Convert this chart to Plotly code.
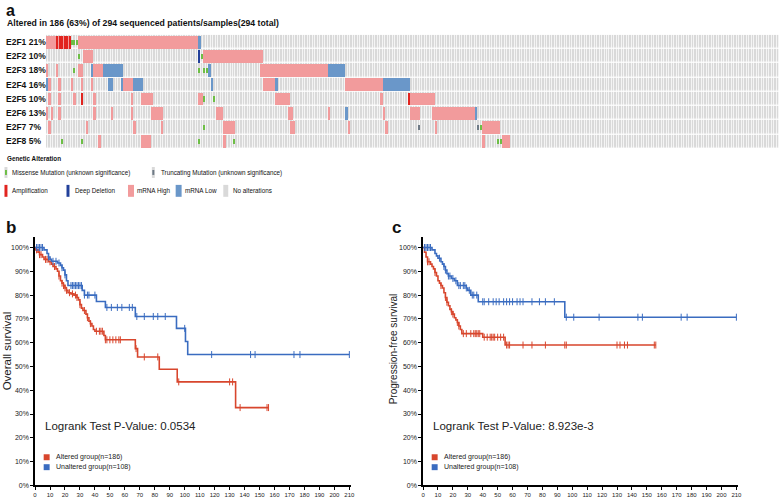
import plotly.graph_objects as go

W, H = 783, 500
FONT = "Liberation Sans, Arial, sans-serif"

# ---------------- Oncoprint data ----------------
GENES = ["E2F1", "E2F2", "E2F3", "E2F4", "E2F5", "E2F6", "E2F7", "E2F8"]
GENE_PCT = ["21%", "10%", "18%", "16%", "10%", "13%", "7%", "5%"]
N_SAMPLES = 294

# (gene index, first sample, last sample)
MRNA_HIGH = [
    (0, 0, 9), (0, 13, 60),
    (1, 15, 18), (1, 63, 86),
    (2, 0, 0), (2, 4, 4), (2, 13, 14), (2, 19, 22), (2, 86, 112),
    (3, 1, 1), (3, 5, 5), (3, 10, 10), (3, 14, 14), (3, 18, 18), (3, 31, 34), (3, 87, 91), (3, 120, 134),
    (4, 1, 1), (4, 5, 5), (4, 11, 11), (4, 19, 19), (4, 34, 34), (4, 38, 42), (4, 61, 62), (4, 92, 97),
    (4, 134, 134), (4, 146, 155),
    (5, 0, 0), (5, 2, 2), (5, 5, 5), (5, 19, 19), (5, 26, 26), (5, 34, 34), (5, 42, 46), (5, 68, 70),
    (5, 97, 98), (5, 113, 113), (5, 135, 135), (5, 146, 149), (5, 155, 171),
    (6, 1, 1), (6, 16, 16), (6, 35, 35), (6, 46, 46), (6, 71, 75), (6, 98, 99), (6, 121, 121),
    (6, 136, 136), (6, 156, 156), (6, 175, 181),
    (7, 21, 21), (7, 38, 41), (7, 71, 71), (7, 175, 175), (7, 183, 185),
]
MRNA_LOW = [
    (0, 61, 61),
    (2, 18, 18), (2, 23, 30), (2, 65, 65), (2, 113, 119),
    (3, 0, 0), (3, 25, 26), (3, 30, 30), (3, 35, 38), (3, 66, 66), (3, 92, 92), (3, 135, 145),
    (5, 120, 120), (5, 172, 172),
]
# (gene index, sample)
AMPLIFICATION = [(0, 4), (0, 5), (0, 6), (0, 7), (0, 8), (0, 9), (4, 14), (4, 145)]
DEEP_DELETION = [(1, 61)]
MISSENSE = [(0, 10), (0, 11), (0, 12), (1, 13), (1, 62), (2, 11), (2, 61), (2, 63), (2, 64),
            (4, 63), (4, 67), (6, 63), (6, 174), (7, 6), (7, 14), (7, 61), (7, 75), (7, 181), (7, 182)]
TRUNCATING = [(6, 149), (6, 173)]

# ---------------- Kaplan-Meier data (months, % surviving after event) ----------------
OS_ALT_T = [0.5, 2, 3, 5, 6, 9, 11, 12, 14, 15, 16, 17, 18, 19, 20, 21, 22, 24, 26, 28, 29, 30, 31, 32,
            34, 35, 36, 37, 38, 39, 40, 46, 47, 67, 68.5, 83, 95, 134]
OS_ALT_S = [99, 98, 97, 96, 95, 94, 93, 92, 91, 90, 88, 86, 85, 84, 83, 82, 81, 80.5, 80, 79, 78, 76, 74.5,
            73.5, 72, 70.5, 69, 68, 67, 65.5, 64.8, 63, 61.2, 57.5, 54, 48.8, 43.5, 32.7]
OS_ALT_CENSOR = [1, 3, 4, 7, 8, 10, 13, 16, 18, 19, 20, 21, 23, 25, 27, 28, 30, 33, 35, 37, 41, 43, 44, 45,
                 47, 48, 50, 52, 54, 56, 57, 67.5, 73, 82, 96, 130, 132, 137, 155, 156]
OS_ALT_END = 156

OS_UNALT_T = [6, 8, 9, 10, 11, 15, 17, 18, 19, 20, 21, 22, 31.5, 33, 41, 47, 67, 94.5, 100.5, 102]
OS_UNALT_S = [99, 97.5, 96, 95, 94.2, 93.5, 92.5, 91.5, 90.5, 88.5, 86, 84, 82, 80, 77.3, 74.8, 71, 66, 60.5, 55]
OS_UNALT_CENSOR = [1, 2, 3, 4, 5, 9, 12, 14, 16, 18, 20, 24, 25, 26, 27, 28, 29, 30, 31, 33, 35, 36, 40, 48,
                   51, 55, 58, 63, 65, 68, 73, 79, 82, 87, 100, 118, 144, 147, 173, 177, 210]
OS_UNALT_END = 210

PFS_ALT_T = [1, 2, 3, 5, 6, 7, 8, 9, 10, 11, 12, 13, 14, 15, 16, 17, 18, 19, 20, 21, 22, 23, 24, 25, 26, 40, 55]
PFS_ALT_S = [98, 96, 94, 93, 92, 91, 89.5, 88, 86, 85, 84, 83, 81, 79, 77, 75.5, 74, 73, 72, 70.5, 69.5, 68.5,
             67, 65.5, 63.8, 62.3, 59]
PFS_ALT_CENSOR = [3, 4, 8, 12, 15, 16, 19, 20, 23, 24, 27, 29, 32, 34, 35, 36, 37, 38, 41, 43, 45, 46, 47, 48,
                  50, 52, 54, 56, 57, 58, 67, 73, 82, 95, 96, 130, 132, 135, 137, 155, 156]
PFS_ALT_END = 156

PFS_UNALT_T = [6, 8, 9, 10, 12, 13, 14, 15, 16, 17, 19, 21, 23, 29, 30, 32, 37, 95]
PFS_UNALT_S = [99, 97.5, 96.5, 95.5, 94, 93, 92, 90.5, 89, 88, 87, 86, 84, 83, 82, 80, 77.2, 70.7]
PFS_UNALT_CENSOR = [1, 2, 3, 4, 5, 11, 14, 15, 17, 18, 20, 22, 24, 25, 27, 28, 29, 31, 33, 34, 36, 40, 41, 44,
                    47, 49, 51, 54, 56, 58, 60, 63, 65, 67, 73, 78, 82, 88, 96, 101, 118, 144, 147, 173, 177, 210]
PFS_UNALT_END = 210

OS_PVALUE = "Logrank Test P-Value: 0.0534"
PFS_PVALUE = "Logrank Test P-Value: 8.923e-3"
GROUP_LABELS = ["Altered group(n=186)", "Unaltered group(n=108)"]
X_TICKS = list(range(0, 211, 10))
Y_TICKS = list(range(0, 101, 10))

# ---------------- styles ----------------
GREY = "#d9d9d9"
PINK = "#f29b9c"
LBLUE = "#6a97c9"
RED = "#e1241f"
DBLUE = "#22409a"
GREEN = "#6dbe45"
TRUNC_C = "#6e7a86"
KM_RED = "#d8462d"
KM_BLUE = "#3a6cc0"


def fx(px):
    return px / W


def fy(py):
    return 1 - py / H


fig = go.Figure()

# background grid of samples
fig.add_trace(go.Heatmap(
    z=[[1] * N_SAMPLES for _ in GENES], x=list(range(N_SAMPLES)), y=list(range(len(GENES))),
    colorscale=[[0, GREY], [1, GREY]], showscale=False, xgap=0.7, ygap=1.3, hoverinfo="skip",
    xaxis="x", yaxis="y"))


def seg_bar(segs, color):
    return go.Bar(orientation="h", y=[g for g, s, e in segs], x=[e - s + 1 for g, s, e in segs],
                  base=[s - 0.5 for g, s, e in segs], width=0.91, marker=dict(color=color, line=dict(width=0)),
                  showlegend=False, hoverinfo="skip", xaxis="x", yaxis="y")


def cell_bar(cells, color, frac_w, frac_h):
    return go.Bar(orientation="h", y=[g for g, s in cells], x=[frac_w] * len(cells),
                  base=[s - frac_w / 2 for g, s in cells], width=frac_h,
                  marker=dict(color=color, line=dict(width=0)),
                  showlegend=False, hoverinfo="skip", xaxis="x", yaxis="y")


fig.add_trace(seg_bar(MRNA_HIGH, PINK))
fig.add_trace(seg_bar(MRNA_LOW, LBLUE))
fig.add_trace(cell_bar(AMPLIFICATION, RED, 0.45, 0.91))
fig.add_trace(cell_bar(DEEP_DELETION, DBLUE, 0.7, 0.91))
fig.add_trace(cell_bar(MISSENSE, GREEN, 0.6, 0.36))
fig.add_trace(cell_bar(TRUNCATING, TRUNC_C, 0.6, 0.36))


# ---------------- KM ----------------
def step_xy(times, survs, end):
    xs = [0] + list(times) + [end]
    ys = [100] + list(survs) + [survs[-1]]
    return xs, ys


def surv_at(t, times, survs):
    s = 100
    for tt, ss in zip(times, survs):
        if tt <= t:
            s = ss
    return s


def add_km(times, survs, censor, end, color, xa, ya):
    xs, ys = step_xy(times, survs, end)
    fig.add_trace(go.Scatter(x=xs, y=ys, mode="lines", line=dict(color=color, width=1.6, shape="hv"),
                             showlegend=False, hoverinfo="skip", xaxis=xa, yaxis=ya))
    fig.add_trace(go.Scatter(x=censor, y=[surv_at(c, times, survs) for c in censor], mode="markers",
                             marker=dict(symbol="line-ns", size=5, line=dict(color=color, width=1)),
                             showlegend=False, hoverinfo="skip", xaxis=xa, yaxis=ya))


add_km(OS_ALT_T, OS_ALT_S, OS_ALT_CENSOR, OS_ALT_END, KM_RED, "x2", "y2")
add_km(OS_UNALT_T, OS_UNALT_S, OS_UNALT_CENSOR, OS_UNALT_END, KM_BLUE, "x2", "y2")
add_km(PFS_ALT_T, PFS_ALT_S, PFS_ALT_CENSOR, PFS_ALT_END, KM_RED, "x3", "y3")
add_km(PFS_UNALT_T, PFS_UNALT_S, PFS_UNALT_CENSOR, PFS_UNALT_END, KM_BLUE, "x3", "y3")

km_x = dict(range=[0, 211.1], tickvals=X_TICKS, ticktext=[str(v) for v in X_TICKS], ticks="outside",
            ticklen=3, tickwidth=1, tickcolor="#000", showline=True, linewidth=1.5, linecolor="#000",
            showgrid=False, zeroline=False, tickfont=dict(size=6, color="#222"))
km_y = dict(range=[0, 104.6], tickvals=Y_TICKS, ticktext=[f"{v}%" for v in Y_TICKS], ticks="outside",
            ticklen=3, tickwidth=1, tickcolor="#000", showline=True, linewidth=1.5, linecolor="#000",
            showgrid=False, zeroline=False, tickfont=dict(size=7, color="#222"))

annotations = []
shapes = []


def ann(text, x, y, size, xanchor="left", yanchor="middle", angle=0, color="#111", xref="paper", yref="paper"):
    annotations.append(dict(text=text, x=x, y=y, xref=xref, yref=yref, xanchor=xanchor, yanchor=yanchor,
                            showarrow=False, textangle=angle, font=dict(size=size, color=color, family=FONT)))


def rect(x0, y0, x1, y1, color):
    shapes.append(dict(type="rect", xref="paper", yref="paper", x0=fx(x0), x1=fx(x1), y0=fy(y1), y1=fy(y0),
                       fillcolor=color, line=dict(width=0)))


# panel labels / title
ann("<b>a</b>", fx(2), fy(0.5), 16, yanchor="top")
ann("<b>b</b>", fx(2), fy(229), 17)
ann("<b>c</b>", fx(391), fy(229), 17)
ann("<b>Altered in 186 (63%) of 294 sequenced patients/samples(294 total)</b>", fx(3), fy(23), 8.7)

for i, (g, p) in enumerate(zip(GENES, GENE_PCT)):
    ann(f"<b>{g} {p}</b>", fx(2.5), i, 8.5, yref="y")

# oncoprint legend
ann("<b>Genetic Alteration</b>", fx(3), fy(159.5), 6.3)
rect(2.5, 168, 5.5, 179, GREY)
rect(3, 171, 5, 176, GREEN)
ann("Missense Mutation (unknown significance)", fx(8), fy(174), 6.3)
rect(151, 168, 154, 179, GREY)
rect(151.5, 171, 153.5, 176, TRUNC_C)
ann("Truncating Mutation (unknown significance)", fx(158), fy(174), 6.3)
rect(2.5, 186, 5.5, 198, RED)
ann("Amplification", fx(8), fy(192), 6.3)
rect(65, 186, 68, 198, DBLUE)
ann("Deep Deletion", fx(71.5), fy(192), 6.3)
rect(127, 186, 133, 198, PINK)
ann("mRNA High", fx(134.5), fy(192), 6.3)
rect(175, 186, 181, 198, LBLUE)
ann("mRNA Low", fx(182.5), fy(192), 6.3)
rect(223, 186, 228, 198, GREY)
ann("No alterations", fx(230.5), fy(192), 6.3)

# KM texts
ann("Overall survival", fx(4.5), fy(353), 11.5, xanchor="center", angle=-90, color="#222")
ann("Progression-free survival", fx(394.5), fy(351), 10, xanchor="center", angle=-90, color="#222")
ann(OS_PVALUE, fx(41), fy(428.5), 11.5, color="#222")
ann(PFS_PVALUE, fx(432.5), fy(429), 11.5, color="#222")
for bx in (42, 433):
    rect(bx, 457, bx + 6, 463, KM_RED)
    rect(bx, 467, bx + 6, 473, KM_BLUE)
    ann(GROUP_LABELS[0], fx(bx + 10), fy(460), 7, color="#222")
    ann(GROUP_LABELS[1], fx(bx + 10), fy(470), 7, color="#222")

fig.update_layout(
    width=W, height=H, margin=dict(l=0, r=0, t=0, b=0), paper_bgcolor="white", plot_bgcolor="white",
    font=dict(family=FONT, color="#111"), barmode="overlay", bargap=0, showlegend=False,
    xaxis=dict(domain=[fx(44.3), 1.0], range=[-0.5, N_SAMPLES - 0.5], visible=False, fixedrange=True),
    yaxis=dict(domain=[fy(149.5), fy(35)], range=[len(GENES) - 0.5, -0.5], visible=False, fixedrange=True),
    xaxis2=dict(domain=[fx(33.3), fx(351.7)], anchor="y2", **km_x),
    yaxis2=dict(domain=[fy(488.3), fy(238)], anchor="x2", **km_y),
    xaxis3=dict(domain=[fx(424.3), fx(741.7)], anchor="y3", **km_x),
    yaxis3=dict(domain=[fy(488.3), fy(238)], anchor="x3", **km_y),
    annotations=annotations, shapes=shapes,
)

fig.write_html(
    "out.html",
    config={"displayModeBar": False},
    post_script="document.body.style.margin='0';document.body.style.padding='0';"
                "document.body.style.overflow='hidden';",
)
